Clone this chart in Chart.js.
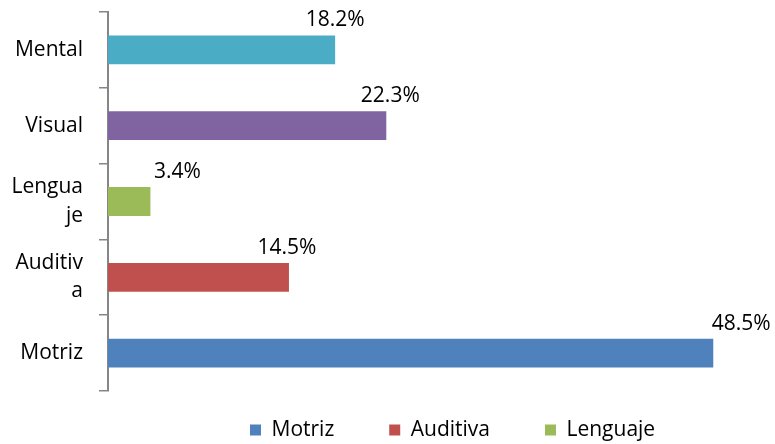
<!DOCTYPE html>
<html>
<head>
<meta charset="utf-8">
<script src="https://cdn.jsdelivr.net/npm/chart.js@4/dist/chart.umd.min.js"></script>
<style>
  body { margin: 0; background: #fff; }
</style>
</head>
<body>
<canvas id="discapacidad" width="775" height="444"></canvas>
<script>
// Categories as they appear on the axis (top to bottom)
const categories = ['Mental', 'Visual', 'Lenguaje', 'Auditiva', 'Motriz'];
// Tick labels, wrapped the way the original axis wraps them
const tickLabels = ['Mental', 'Visual', ['Lengua', 'je'], ['Auditiv', 'a'], 'Motriz'];
// Percentages per category
const percentages = [18.2, 22.3, 3.4, 14.5, 48.5];
// Series order (legend order), and how many legend entries fit
const seriesOrder = ['Motriz', 'Auditiva', 'Lenguaje', 'Visual', 'Mental'];
const legendShown = 3;

const seriesColors = {
    Motriz: '#4F81BD',
    Auditiva: '#C0504D',
    Lenguaje: '#9BBB59',
    Visual: '#8064A2',
    Mental: '#4BACC6'
};
// small horizontal nudges for the value labels (as placed in the original)
const labelNudgeX = { Mental: 0, Visual: 4, Lenguaje: 27, Auditiva: -2, Motriz: 28 };

Chart.defaults.font.family = "'Open Sans', sans-serif";
Chart.defaults.font.size = 21;
Chart.defaults.color = '#000';

const datasets = seriesOrder.map(name => ({
    label: name,
    data: categories.map((c, i) => c === name ? percentages[i] : null),
    backgroundColor: seriesColors[name],
    borderWidth: 0,
    barPercentage: 1,
    categoryPercentage: 0.38
}));

// Plugin to write the value above the end of each bar
const valueLabels = {
    id: 'valueLabels',
    afterDatasetsDraw(chart) {
        const {ctx} = chart;
        ctx.save();
        ctx.font = "21px 'Open Sans'";
        ctx.fillStyle = '#000';
        ctx.textAlign = 'center';
        ctx.textBaseline = 'alphabetic';
        chart.data.datasets.forEach((ds, di) => {
            const meta = chart.getDatasetMeta(di);
            ds.data.forEach((v, i) => {
                if (v === null) return;
                const bar = meta.data[i];
                const top = bar.y - bar.height / 2;
                ctx.fillText(v.toFixed(1) + '%', bar.x + (labelNudgeX[ds.label] || 0), top - 9);
            });
        });
        ctx.restore();
    }
};

// Move the (truncated) legend to where the original has it
const legendPlace = {
    id: 'legendPlace',
    afterLayout(chart) {
        const lg = chart.legend;
        if (!lg || !lg.lineWidths) return;
        const pad = lg.options.labels.padding;
        const startX = (lg.left + pad + lg.right - lg.lineWidths[0]) / 2;
        const dx = 250 - startX;
        const dy = (430 - pad - 10.5) - lg.top;
        lg.left += dx; lg.right += dx;
        lg.top += dy;
        lg.bottom = chart.height;
        lg.height = lg.bottom - lg.top;
    }
};

new Chart(document.getElementById('discapacidad'), {
    type: 'bar',
    data: {
        labels: tickLabels,
        datasets: datasets
    },
    options: {
        indexAxis: 'y',
        responsive: false,
        animation: false,
        devicePixelRatio: 1,
        layout: {
            padding: { top: 12, right: 43, bottom: 0, left: 0 }
        },
        scales: {
            x: {
                display: false,
                min: 0,
                max: 50
            },
            y: {
                stacked: false,
                grid: {
                    offset: true,
                    drawOnChartArea: false,
                    drawTicks: true,
                    tickLength: 9,
                    color: '#868686',
                    lineWidth: 1.5
                },
                border: { display: true, color: '#868686', width: 2 },
                ticks: {
                    padding: 16,
                    color: '#000',
                    font: { size: 21, lineHeight: 1.35 }
                },
                afterFit(scale) {
                    scale.width = 108;
                    scale.paddingTop = 0;
                    scale.paddingBottom = 0;
                }
            }
        },
        datasets: { bar: { grouped: false } },
        plugins: {
            legend: {
                display: true,
                position: 'bottom',
                maxHeight: 53,
                labels: {
                    boxWidth: 11,
                    boxHeight: 11,
                    padding: 55,
                    color: '#000',
                    font: { size: 21 },
                    filter: (item) => item.datasetIndex < legendShown
                }
            },
            tooltip: { enabled: false }
        }
    },
    plugins: [valueLabels, legendPlace]
});
</script>
</body>
</html>
